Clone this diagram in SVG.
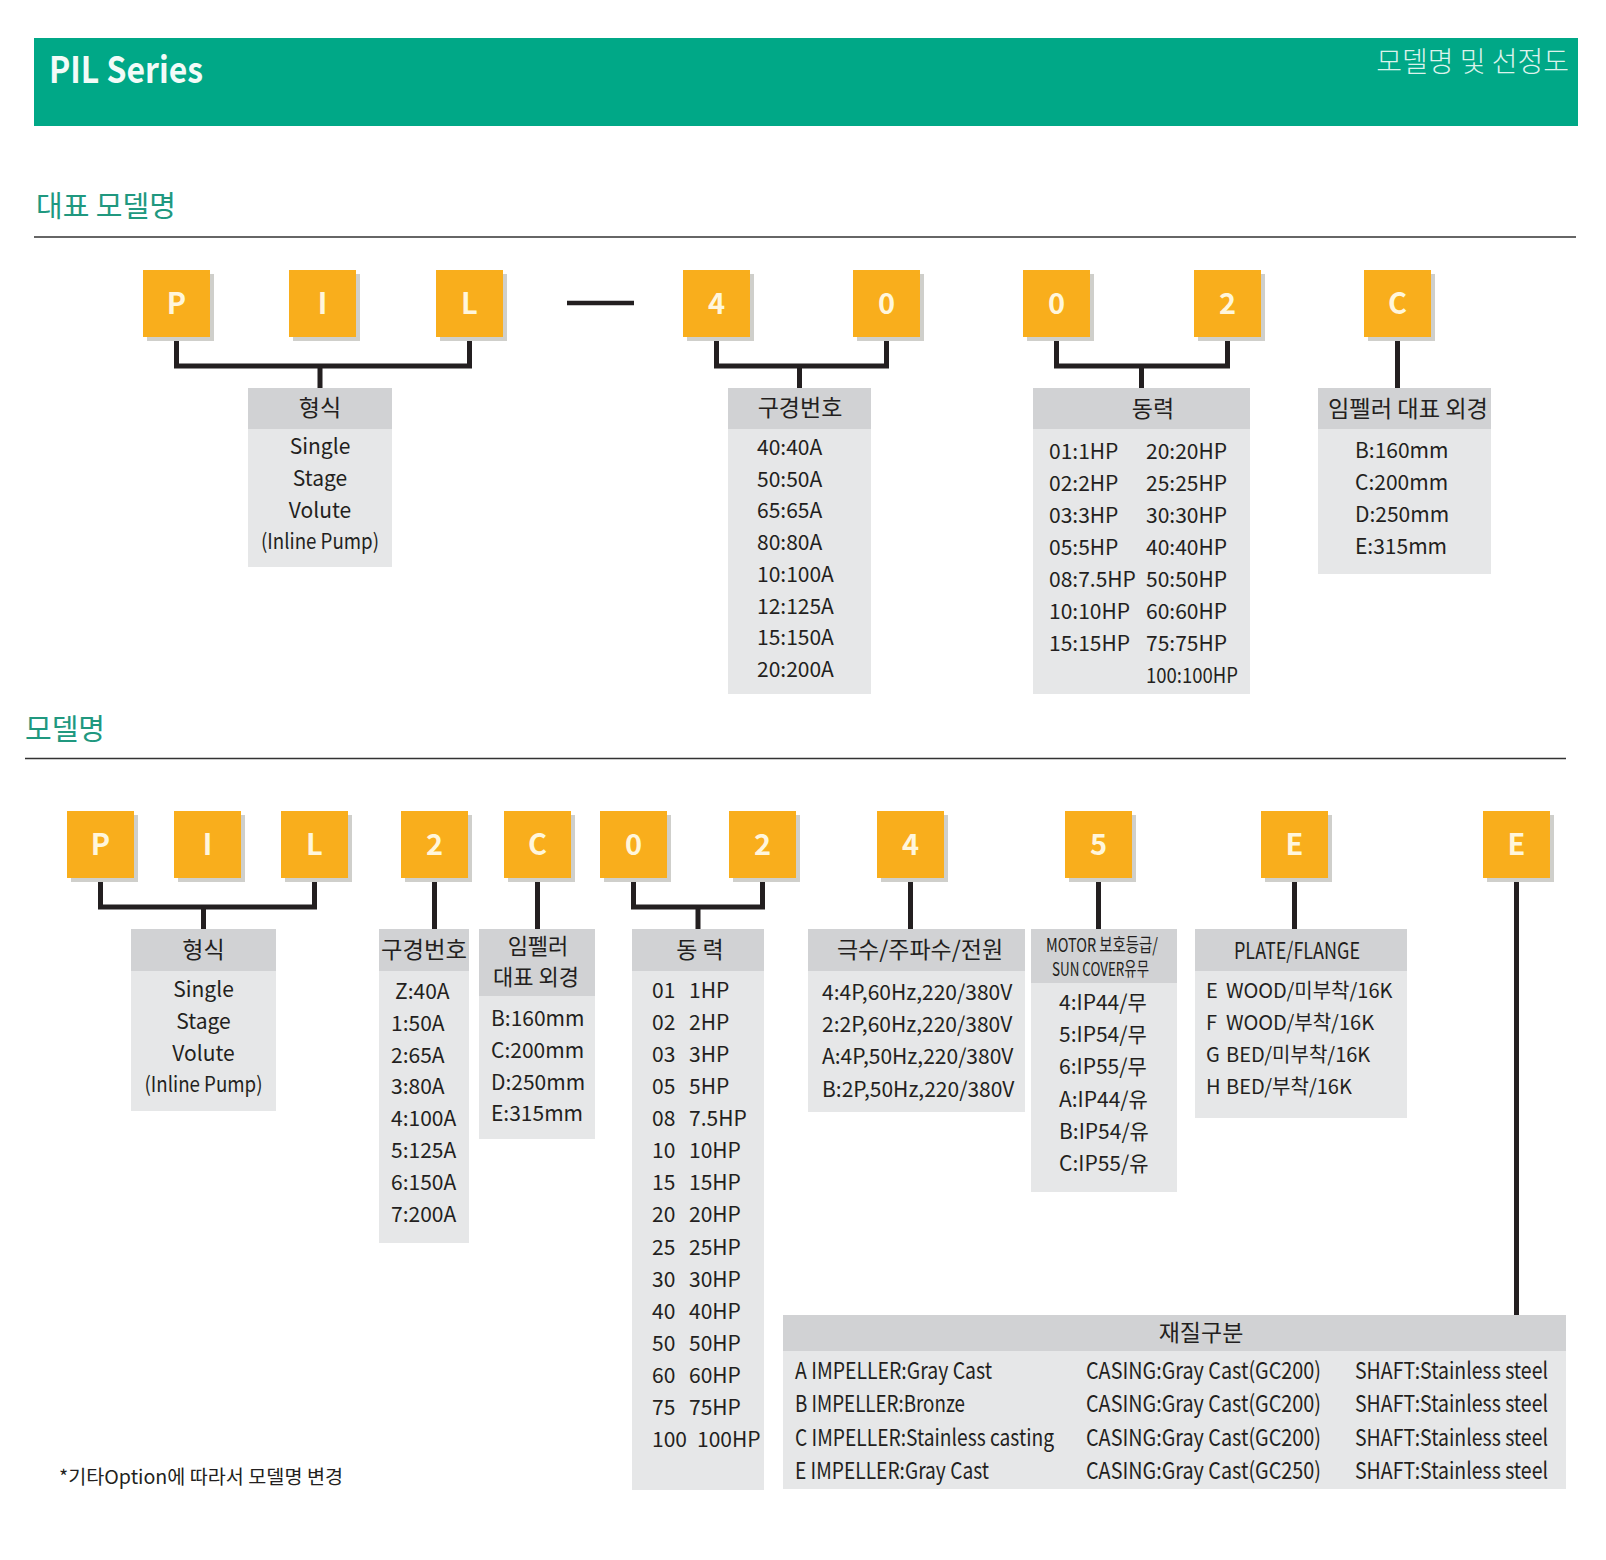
<svg xmlns="http://www.w3.org/2000/svg" width="1606" height="1560" viewBox="0 0 1606 1560">
<defs>
<style>
text{font-family:"Noto Sans CJK KR","Noto Sans",sans-serif;fill:#231f20}
.ob{fill:#F9AE1C}
.sh{fill:#cfcfcb}
.bt{font-size:29px;font-weight:bold;fill:#fff6dc;text-anchor:middle}
.hd{fill:#d1d2d4}
.bd{fill:#e6e7e8}
.h{font-size:23px;text-anchor:middle}
.i{font-size:21px}
.m{text-anchor:middle}
.c{fill:none;stroke:#231f20;stroke-width:5}
.sec{font-size:29px;fill:#20987f}
.rule{stroke:#333;stroke-width:1.5}
.mt{font-size:23px}
.pl{font-size:20px}
</style>
</defs>
<rect width="1606" height="1560" fill="#fff"/>
<g id="header">
<rect x="34" y="38" width="1544" height="88" fill="#00A887"/>
<text x="49" y="83" font-size="36" font-weight="bold" style="fill:#f2fbf8" textLength="154" lengthAdjust="spacingAndGlyphs">PIL Series</text>
<text x="1569" y="72" font-size="28" text-anchor="end" style="fill:#dcf3ec;font-weight:300">모델명 및 선정도</text>
</g>
<g id="section1">
<text class="sec" x="36" y="217">대표 모델명</text>
<line class="rule" x1="34" y1="237" x2="1576" y2="237"/>
</g>
<g id="section2">
<text class="sec" x="25" y="740">모델명</text>
<line class="rule" x1="25" y1="758.5" x2="1566" y2="758.5"/>
</g>

<g id="connectors">
<path class="c" d="M176.5 340V366H469.5V340M320 366V388"/>
<line x1="567" y1="303" x2="634" y2="303" stroke="#231f20" stroke-width="4.5"/>
<path class="c" d="M716.5 340V366H886.5V340M799.5 366V388"/>
<path class="c" d="M1056.5 340V366H1227.5V340M1141.5 366V388"/>
<path class="c" d="M1397.5 340V388"/>
<path class="c" d="M100.5 881V907H314.5V881M203.5 907V929"/>
<path class="c" d="M434.5 881V929"/>
<path class="c" d="M537.5 881V929"/>
<path class="c" d="M633.5 881V907H762.5V881M698 907V929"/>
<path class="c" d="M910.5 881V929"/>
<path class="c" d="M1098.5 881V929"/>
<path class="c" d="M1294.5 881V929"/>
<path class="c" d="M1516.5 881V1315"/>
</g>

<g id="t-P"><rect class="sh" x="147" y="274" width="67" height="67"/><rect class="ob" x="143" y="270" width="67" height="67"/><text class="bt" x="176.5" y="314">P</text></g>
<g id="t-I"><rect class="sh" x="293" y="274" width="67" height="67"/><rect class="ob" x="289" y="270" width="67" height="67"/><text class="bt" x="322.5" y="314">I</text></g>
<g id="t-L"><rect class="sh" x="440" y="274" width="67" height="67"/><rect class="ob" x="436" y="270" width="67" height="67"/><text class="bt" x="469.5" y="314">L</text></g>
<g id="t-4"><rect class="sh" x="687" y="274" width="67" height="67"/><rect class="ob" x="683" y="270" width="67" height="67"/><text class="bt" x="716.5" y="314">4</text></g>
<g id="t-0a"><rect class="sh" x="857" y="274" width="67" height="67"/><rect class="ob" x="853" y="270" width="67" height="67"/><text class="bt" x="886.5" y="314">0</text></g>
<g id="t-0b"><rect class="sh" x="1027" y="274" width="67" height="67"/><rect class="ob" x="1023" y="270" width="67" height="67"/><text class="bt" x="1056.5" y="314">0</text></g>
<g id="t-2"><rect class="sh" x="1198" y="274" width="67" height="67"/><rect class="ob" x="1194" y="270" width="67" height="67"/><text class="bt" x="1227.5" y="314">2</text></g>
<g id="t-C"><rect class="sh" x="1368" y="274" width="67" height="67"/><rect class="ob" x="1364" y="270" width="67" height="67"/><text class="bt" x="1397.5" y="314">C</text></g>

<g id="t-type">
<rect class="hd" x="248" y="388" width="144" height="41"/><rect class="bd" x="248" y="429" width="144" height="138"/>
<text class="h" x="320" y="416">형식</text>
<text class="i m" x="320" y="454">Single</text>
<text class="i m" x="320" y="486">Stage</text>
<text class="i m" x="320" y="518">Volute</text>
<text class="i m" x="320" y="549" textLength="118" lengthAdjust="spacingAndGlyphs">(Inline Pump)</text>
</g>
<g id="t-bore">
<rect class="hd" x="728" y="388" width="143" height="41"/><rect class="bd" x="728" y="429" width="143" height="265"/>
<text class="h" x="800" y="416">구경번호</text>
<text class="i" x="757" y="455">40:40A</text>
<text class="i" x="757" y="487">50:50A</text>
<text class="i" x="757" y="518">65:65A</text>
<text class="i" x="757" y="550">80:80A</text>
<text class="i" x="757" y="582">10:100A</text>
<text class="i" x="757" y="614">12:125A</text>
<text class="i" x="757" y="645">15:150A</text>
<text class="i" x="757" y="677">20:200A</text>
</g>
<g id="t-power">
<rect class="hd" x="1033" y="388" width="217" height="41"/><rect class="bd" x="1033" y="429" width="217" height="265"/>
<text class="h" x="1153" y="417">동력</text>
<text class="i" x="1049" y="459">01:1HP</text><text class="i" x="1146" y="459">20:20HP</text>
<text class="i" x="1049" y="491">02:2HP</text><text class="i" x="1146" y="491">25:25HP</text>
<text class="i" x="1049" y="523">03:3HP</text><text class="i" x="1146" y="523">30:30HP</text>
<text class="i" x="1049" y="555">05:5HP</text><text class="i" x="1146" y="555">40:40HP</text>
<text class="i" x="1049" y="587">08:7.5HP</text><text class="i" x="1146" y="587">50:50HP</text>
<text class="i" x="1049" y="619">10:10HP</text><text class="i" x="1146" y="619">60:60HP</text>
<text class="i" x="1049" y="651">15:15HP</text><text class="i" x="1146" y="651">75:75HP</text>
<text class="i" x="1146" y="683" textLength="92" lengthAdjust="spacingAndGlyphs">100:100HP</text>
</g>
<g id="t-imp">
<rect class="hd" x="1318" y="388" width="173" height="41"/><rect class="bd" x="1318" y="429" width="173" height="145"/>
<text x="1328" y="417" font-size="23" textLength="160" lengthAdjust="spacingAndGlyphs">임펠러 대표 외경</text>
<text class="i" x="1355" y="458">B:160mm</text>
<text class="i" x="1355" y="490">C:200mm</text>
<text class="i" x="1355" y="522">D:250mm</text>
<text class="i" x="1355" y="554">E:315mm</text>
</g>

<g id="b-P"><rect class="sh" x="71" y="815" width="67" height="67"/><rect class="ob" x="67" y="811" width="67" height="67"/><text class="bt" x="100.5" y="855">P</text></g>
<g id="b-I"><rect class="sh" x="178" y="815" width="67" height="67"/><rect class="ob" x="174" y="811" width="67" height="67"/><text class="bt" x="207.5" y="855">I</text></g>
<g id="b-L"><rect class="sh" x="285" y="815" width="67" height="67"/><rect class="ob" x="281" y="811" width="67" height="67"/><text class="bt" x="314.5" y="855">L</text></g>
<g id="b-2a"><rect class="sh" x="405" y="815" width="67" height="67"/><rect class="ob" x="401" y="811" width="67" height="67"/><text class="bt" x="434.5" y="855">2</text></g>
<g id="b-C"><rect class="sh" x="508" y="815" width="67" height="67"/><rect class="ob" x="504" y="811" width="67" height="67"/><text class="bt" x="537.5" y="855">C</text></g>
<g id="b-0"><rect class="sh" x="604" y="815" width="67" height="67"/><rect class="ob" x="600" y="811" width="67" height="67"/><text class="bt" x="633.5" y="855">0</text></g>
<g id="b-2b"><rect class="sh" x="733" y="815" width="67" height="67"/><rect class="ob" x="729" y="811" width="67" height="67"/><text class="bt" x="762.5" y="855">2</text></g>
<g id="b-4"><rect class="sh" x="881" y="815" width="67" height="67"/><rect class="ob" x="877" y="811" width="67" height="67"/><text class="bt" x="910.5" y="855">4</text></g>
<g id="b-5"><rect class="sh" x="1069" y="815" width="67" height="67"/><rect class="ob" x="1065" y="811" width="67" height="67"/><text class="bt" x="1098.5" y="855">5</text></g>
<g id="b-Ea"><rect class="sh" x="1265" y="815" width="67" height="67"/><rect class="ob" x="1261" y="811" width="67" height="67"/><text class="bt" x="1294.5" y="855">E</text></g>
<g id="b-Eb"><rect class="sh" x="1487" y="815" width="67" height="67"/><rect class="ob" x="1483" y="811" width="67" height="67"/><text class="bt" x="1516.5" y="855">E</text></g>

<g id="b-type">
<rect class="hd" x="131" y="929" width="145" height="42"/><rect class="bd" x="131" y="971" width="145" height="140"/>
<text class="h" x="203.5" y="958">형식</text>
<text class="i m" x="203.5" y="997">Single</text>
<text class="i m" x="203.5" y="1029">Stage</text>
<text class="i m" x="203.5" y="1061">Volute</text>
<text class="i m" x="203.5" y="1092" textLength="118" lengthAdjust="spacingAndGlyphs">(Inline Pump)</text>
</g>
<g id="b-bore">
<rect class="hd" x="379" y="929" width="90" height="42"/><rect class="bd" x="379" y="971" width="90" height="272"/>
<text x="381" y="958" font-size="23" textLength="86" lengthAdjust="spacingAndGlyphs">구경번호</text>
<text class="i" x="395" y="999">Z:40A</text>
<text class="i" x="391" y="1031">1:50A</text>
<text class="i" x="391" y="1063">2:65A</text>
<text class="i" x="391" y="1094">3:80A</text>
<text class="i" x="391" y="1126">4:100A</text>
<text class="i" x="391" y="1158">5:125A</text>
<text class="i" x="391" y="1190">6:150A</text>
<text class="i" x="391" y="1222">7:200A</text>
</g>
<g id="b-imp">
<rect class="hd" x="479" y="929" width="116" height="67"/><rect class="bd" x="479" y="996" width="116" height="143"/>
<text x="538" y="954" font-size="22" text-anchor="middle">임펠러</text>
<text x="536" y="985" font-size="22" text-anchor="middle">대표 외경</text>
<text class="i" x="491" y="1026">B:160mm</text>
<text class="i" x="491" y="1058">C:200mm</text>
<text class="i" x="491" y="1090">D:250mm</text>
<text class="i" x="491" y="1121">E:315mm</text>
</g>
<g id="b-power">
<rect class="hd" x="632" y="929" width="132" height="42"/><rect class="bd" x="632" y="971" width="132" height="519"/>
<text class="h" x="700" y="958">동 력</text>
<text class="i" x="652" y="998">01</text><text class="i" x="689" y="998">1HP</text>
<text class="i" x="652" y="1030">02</text><text class="i" x="689" y="1030">2HP</text>
<text class="i" x="652" y="1062">03</text><text class="i" x="689" y="1062">3HP</text>
<text class="i" x="652" y="1094">05</text><text class="i" x="689" y="1094">5HP</text>
<text class="i" x="652" y="1126">08</text><text class="i" x="689" y="1126">7.5HP</text>
<text class="i" x="652" y="1158">10</text><text class="i" x="689" y="1158">10HP</text>
<text class="i" x="652" y="1190">15</text><text class="i" x="689" y="1190">15HP</text>
<text class="i" x="652" y="1222">20</text><text class="i" x="689" y="1222">20HP</text>
<text class="i" x="652" y="1255">25</text><text class="i" x="689" y="1255">25HP</text>
<text class="i" x="652" y="1287">30</text><text class="i" x="689" y="1287">30HP</text>
<text class="i" x="652" y="1319">40</text><text class="i" x="689" y="1319">40HP</text>
<text class="i" x="652" y="1351">50</text><text class="i" x="689" y="1351">50HP</text>
<text class="i" x="652" y="1383">60</text><text class="i" x="689" y="1383">60HP</text>
<text class="i" x="652" y="1415">75</text><text class="i" x="689" y="1415">75HP</text>
<text class="i" x="652" y="1447">100</text><text class="i" x="697" y="1447">100HP</text>
</g>
<g id="b-pole">
<rect class="hd" x="808" y="929" width="217" height="42"/><rect class="bd" x="808" y="971" width="217" height="141"/>
<text class="h" x="920" y="958">극수/주파수/전원</text>
<text class="i" x="822" y="1000">4:4P,60Hz,220/380V</text>
<text class="i" x="822" y="1032">2:2P,60Hz,220/380V</text>
<text class="i" x="822" y="1064">A:4P,50Hz,220/380V</text>
<text class="i" x="822" y="1097">B:2P,50Hz,220/380V</text>
</g>
<g id="b-motor">
<rect class="hd" x="1031" y="929" width="146" height="54"/><rect class="bd" x="1031" y="983" width="146" height="209"/>
<text x="1046" y="952" font-size="19" textLength="112" lengthAdjust="spacingAndGlyphs">MOTOR 보호등급/</text>
<text x="1052" y="976" font-size="19" textLength="97" lengthAdjust="spacingAndGlyphs">SUN COVER유무</text>
<text class="i" x="1059" y="1010">4:IP44/무</text>
<text class="i" x="1059" y="1042">5:IP54/무</text>
<text class="i" x="1059" y="1074">6:IP55/무</text>
<text class="i" x="1059" y="1107">A:IP44/유</text>
<text class="i" x="1059" y="1139">B:IP54/유</text>
<text class="i" x="1059" y="1171">C:IP55/유</text>
</g>
<g id="b-plate">
<rect class="hd" x="1195" y="929" width="212" height="42"/><rect class="bd" x="1195" y="971" width="212" height="147"/>
<text x="1234" y="959" font-size="23" textLength="126" lengthAdjust="spacingAndGlyphs">PLATE/FLANGE</text>
<text class="pl" x="1206" y="998">E<tspan x="1226">WOOD/미부착/16K</tspan></text>
<text class="pl" x="1206" y="1030">F<tspan x="1226">WOOD/부착/16K</tspan></text>
<text class="pl" x="1206" y="1062">G<tspan x="1226">BED/미부착/16K</tspan></text>
<text class="pl" x="1206" y="1094">H<tspan x="1226">BED/부착/16K</tspan></text>
</g>
<g id="b-material">
<rect class="hd" x="783" y="1315" width="783" height="36"/><rect class="bd" x="783" y="1351" width="783" height="138"/>
<text class="h" x="1201" y="1341">재질구분</text>
<text class="mt" x="795" y="1379" textLength="197" lengthAdjust="spacingAndGlyphs">A IMPELLER:Gray Cast</text>
<text class="mt" x="795" y="1412" textLength="170" lengthAdjust="spacingAndGlyphs">B IMPELLER:Bronze</text>
<text class="mt" x="795" y="1446" textLength="259" lengthAdjust="spacingAndGlyphs">C IMPELLER:Stainless casting</text>
<text class="mt" x="795" y="1479" textLength="194" lengthAdjust="spacingAndGlyphs">E IMPELLER:Gray Cast</text>
<text class="mt" x="1086" y="1379" textLength="235" lengthAdjust="spacingAndGlyphs">CASING:Gray Cast(GC200)</text>
<text class="mt" x="1086" y="1412" textLength="235" lengthAdjust="spacingAndGlyphs">CASING:Gray Cast(GC200)</text>
<text class="mt" x="1086" y="1446" textLength="235" lengthAdjust="spacingAndGlyphs">CASING:Gray Cast(GC200)</text>
<text class="mt" x="1086" y="1479" textLength="235" lengthAdjust="spacingAndGlyphs">CASING:Gray Cast(GC250)</text>
<text class="mt" x="1355" y="1379" textLength="193" lengthAdjust="spacingAndGlyphs">SHAFT:Stainless steel</text>
<text class="mt" x="1355" y="1412" textLength="193" lengthAdjust="spacingAndGlyphs">SHAFT:Stainless steel</text>
<text class="mt" x="1355" y="1446" textLength="193" lengthAdjust="spacingAndGlyphs">SHAFT:Stainless steel</text>
<text class="mt" x="1355" y="1479" textLength="193" lengthAdjust="spacingAndGlyphs">SHAFT:Stainless steel</text>
</g>
<g id="note">
<text x="59" y="1484" font-size="19" textLength="284" lengthAdjust="spacingAndGlyphs">*기타Option에 따라서 모델명 변경</text>
</g>
</svg>
